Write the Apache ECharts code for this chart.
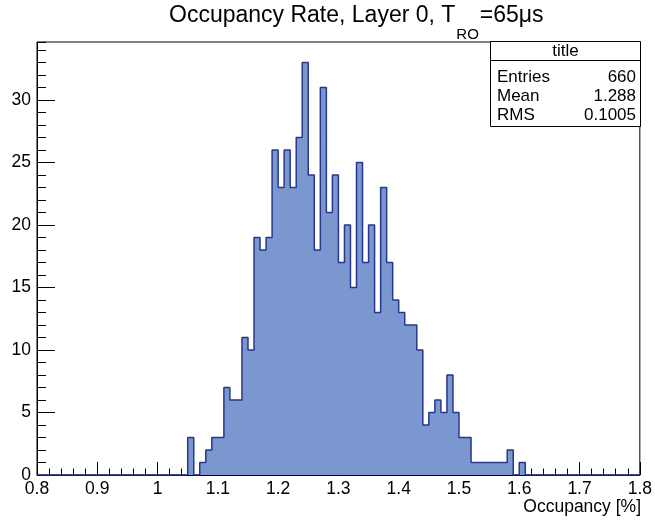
<!DOCTYPE html>
<html><head><meta charset="utf-8">
<script src="https://cdn.jsdelivr.net/npm/echarts@6/dist/echarts.min.js"></script>
<style>html,body{margin:0;padding:0;background:#fff}#c{width:655px;height:522px}</style>
</head><body><div id="c"></div>
<script>
// ---- data ----
const binLow = 0.8;
const binWidth = 0.01;
const nBins = 100;
const firstFilledLow = 1.05;      // lower edge of first listed bin
const counts = [3,0,1,2,3,3,7,6,6,11,10,19,18,19,26,23,26,23,27,33,24,18,31,21,24,17,20,15,25,17,20,13,23,17,14,13,12,12,10,4,5,6,5,8,5,3,3,1,1,1,1,1,1,2,0,1];
const xTickLabels = ['0.8','0.9','1','1.1','1.2','1.3','1.4','1.5','1.6','1.7','1.8'];
const yTickLabels = ['0','5','10','15','20','25','30'];
const statsTitle = 'title';
const statsNames = ['Entries','Mean','RMS'];
const statsValues = ['660','1.288','0.1005'];
const yMax = 33 * 1.05;

// build histogram step points (bin lower edges)
const offset = Math.round((firstFilledLow - binLow) / binWidth);
const pts = [];
for (let i = 0; i < nBins; i++) {
  const j = i - offset;
  const v = (j >= 0 && j < counts.length) ? counts[j] : 0;
  pts.push([+(binLow + i * binWidth).toFixed(2), v]);
}
pts.push([+(binLow + nBins * binWidth).toFixed(2), 0]);

const FONT = '"Liberation Sans", Arial, Helvetica, sans-serif';
const ctx = document.createElement('canvas').getContext('2d');
function w(text, size) { ctx.font = size + 'px ' + FONT; return ctx.measureText(text).width; }

// title pieces
const t1 = 'Occupancy Rate, Layer 0, T', t2 = 'RO', t3 = '=65\u03bcs';
const fsMain = 23, fsSub = 15;
const tx0 = 169;
const tx1 = tx0 + w(t1, fsMain) + 1;
const tx2 = tx1 + w(t2, fsSub) + 1;
const mid = fs => 0.3465 * fs;   // baseline -> middle offset
const baseMain = 23.5, baseSub = 40.5;

const chart = echarts.init(document.getElementById('c'), null, {renderer: 'canvas'});
const G = {left: 37, right: 12, top: 42, bottom: 47};
const LFS = 17.5;
chart.setOption({
  animation: false,
  backgroundColor: '#fff',
  grid: {left: G.left, right: G.right, top: G.top, bottom: G.bottom, show: true, borderColor: '#000', borderWidth: 1, backgroundColor: 'transparent'},
  xAxis: {
    type: 'value', min: 0.8, max: 1.8, interval: 0.1,
    axisLine: {show: true, lineStyle: {color: '#000', width: 1}},
    axisTick: {show: true, inside: true, length: 13, lineStyle: {color: '#000', width: 1}},
    minorTick: {show: true, splitNumber: 5, length: 6.5, lineStyle: {color: '#000', width: 1}},
    splitLine: {show: false},
    axisLabel: {color: '#000', fontSize: LFS, fontFamily: FONT, margin: 5,
      formatter: v => { const k = Math.round((v - 0.8) / 0.1); return (Math.abs(v - (0.8 + k*0.1)) < 1e-6 && xTickLabels[k]) ? xTickLabels[k] : ''; }}
  },
  yAxis: [{
    type: 'value', min: 0, max: yMax, interval: 5,
    axisLine: {show: true, lineStyle: {color: '#000', width: 1}},
    axisTick: {show: true, inside: true, length: 18, lineStyle: {color: '#000', width: 1}},
    splitLine: {show: false},
    axisLabel: {color: '#000', fontSize: LFS, fontFamily: FONT, margin: 6, showMaxLabel: false,
      formatter: v => { const k = Math.round(v / 5); return (Math.abs(v - k*5) < 1e-6 && yTickLabels[k] !== undefined) ? yTickLabels[k] : ''; }}
  }, {
    type: 'value', min: 0, max: yMax, interval: 1, position: 'left', offset: 0,
    axisLine: {show: false},
    axisTick: {show: true, inside: true, length: 9, lineStyle: {color: '#000', width: 1}},
    splitLine: {show: false},
    axisLabel: {show: false}
  }],
  series: [{
    type: 'line', step: 'end', data: pts, yAxisIndex: 0,
    symbol: 'none', clip: true,
    lineStyle: {color: '#27378b', width: 1.5},
    areaStyle: {color: '#7b97cf', opacity: 1},
    z: 1
  }],
  graphic: [
    {type: 'text', x: tx0, y: baseMain - mid(fsMain), style: {text: t1, font: fsMain + 'px ' + FONT, fill: '#000', verticalAlign: 'middle'}},
    {type: 'text', x: tx1, y: baseSub - mid(fsSub), style: {text: t2, font: fsSub + 'px ' + FONT, fill: '#000', verticalAlign: 'middle'}},
    {type: 'text', x: tx2, y: baseMain - mid(fsMain), style: {text: t3, font: fsMain + 'px ' + FONT, fill: '#000', verticalAlign: 'middle'}},
    {type: 'text', x: 641, y: 507, style: {text: 'Occupancy [%]', font: LFS + 'px ' + FONT, fill: '#000', align: 'right', verticalAlign: 'middle'}},
    {type: 'rect', shape: {x: 490.5, y: 41.5, width: 150, height: 85}, style: {fill: '#fff', stroke: '#000', lineWidth: 1}, z: 10},
    {type: 'line', shape: {x1: 490.5, y1: 60.5, x2: 640.5, y2: 60.5}, style: {stroke: '#000', lineWidth: 1}, z: 11},
    {type: 'text', x: 565.5, y: 51, style: {text: statsTitle, font: '17px ' + FONT, fill: '#000', align: 'center', verticalAlign: 'middle'}, z: 11},
    ...statsNames.map((n, i) => ({type: 'text', x: 497, y: 77 + i * 19, style: {text: n, font: '17px ' + FONT, fill: '#000', align: 'left', verticalAlign: 'middle'}, z: 11})),
    ...statsValues.map((n, i) => ({type: 'text', x: 636, y: 77 + i * 19, style: {text: n, font: '17px ' + FONT, fill: '#000', align: 'right', verticalAlign: 'middle'}, z: 11}))
  ]
});
</script>
</body></html>
